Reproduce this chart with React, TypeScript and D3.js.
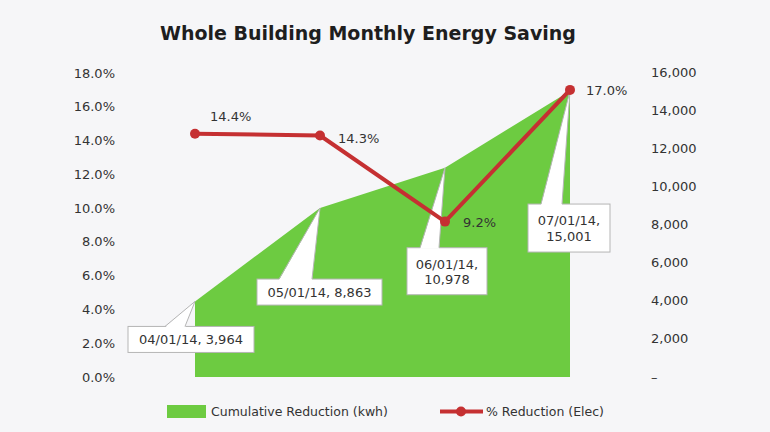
import React from 'react';
import * as d3 from 'd3';

// chart values
const months = ['04/01/14', '05/01/14', '06/01/14', '07/01/14'];
const cumulativeKwh = [3964, 8863, 10978, 15001];
const pctReduction = [14.4, 14.3, 9.2, 17.0];
const pctTicks = [0, 2, 4, 6, 8, 10, 12, 14, 16, 18];
const kwhTicks = [0, 2000, 4000, 6000, 8000, 10000, 12000, 14000, 16000];

// callout placement relative to each area point
const callouts = [
  { dx: -67, dy: 25, w: 126, h: 26, b0: -30, b1: -10, twoLines: false },
  { dx: -63, dy: 71, w: 125, h: 26, b0: -41, b1: -8, twoLines: false },
  { dx: -38, dy: 80, w: 80, h: 47, b0: -25, b1: -6, twoLines: true },
  { dx: -42, dy: 113, w: 82, h: 48, b0: -29, b1: -8, twoLines: true },
];
const pctLabelOffset = [
  { dx: 15, dy: -17 },
  { dx: 18, dy: 3 },
  { dx: 18, dy: 1 },
  { dx: 16, dy: 1 },
];

const W = 770;
const H = 432;
const GREEN = '#6dcb41';
const RED = '#c53032';
const FONT = '"DejaVu Sans", sans-serif';

const App = () => {
  const x = d3.scalePoint().domain(months).range([195, 570]);
  const yPct = d3.scaleLinear().domain([0, 18]).range([377, 73]);
  const yKwh = d3.scaleLinear().domain([0, 16000]).range([377, 72]);

  const area = d3
    .area<number>()
    .x((d, i) => x(months[i]))
    .y0(yKwh(0))
    .y1((d) => yKwh(d));

  const line = d3
    .line<number>()
    .x((d, i) => x(months[i]))
    .y((d) => yPct(d));

  const fmt = d3.format(',');

  return (
    <div style={{ position: 'fixed', left: 0, top: 0 }}>
      <svg width={W} height={H} style={{ display: 'block' }} fontFamily={FONT}>
        <rect width={W} height={H} fill="#f6f6f8" />
        <text x={368} y={40} textAnchor="middle" fontSize={19} fontWeight="bold" fill="#1e1e1e">
          Whole Building Monthly Energy Saving
        </text>

        {pctTicks.map((t) => (
          <text key={t} x={115} y={yPct(t)} dy="0.35em" textAnchor="end" fontSize={13} fill="#333">
            {t.toFixed(1)}%
          </text>
        ))}
        {kwhTicks.map((t) => (
          <text key={t} x={651} y={yKwh(t)} dy="0.35em" textAnchor="start" fontSize={13} fill="#333">
            {t === 0 ? '–' : fmt(t)}
          </text>
        ))}

        <path d={area(cumulativeKwh) || ''} fill={GREEN} />

        {cumulativeKwh.map((v, i) => {
          const px = x(months[i]) as number;
          const py = yKwh(v);
          const c = callouts[i];
          const bx = px + c.dx;
          const by = py + c.dy;
          const label = `${months[i]}, ${fmt(v)}`;
          return (
            <g key={months[i]}>
              <rect x={bx} y={by} width={c.w} height={c.h} fill="#fff" stroke="#b5b5b5" />
              <polygon points={`${px},${py} ${px + c.b0},${by + 1} ${px + c.b1},${by + 1}`} fill="#fff" />
              <path
                d={`M${px + c.b0},${by} L${px},${py} L${px + c.b1},${by}`}
                fill="none"
                stroke="#b5b5b5"
              />
              {c.twoLines ? (
                <text x={bx + c.w / 2} y={by + c.h / 2} textAnchor="middle" fontSize={13} fill="#333">
                  <tspan x={bx + c.w / 2} dy="-0.2em">{months[i] + ','}</tspan>
                  <tspan x={bx + c.w / 2} dy="1.2em">{fmt(v)}</tspan>
                </text>
              ) : (
                <text x={bx + c.w / 2} y={by + c.h / 2} dy="0.35em" textAnchor="middle" fontSize={13} fill="#333">
                  {label}
                </text>
              )}
            </g>
          );
        })}

        <path d={line(pctReduction) || ''} fill="none" stroke={RED} strokeWidth={4} strokeLinejoin="round" />
        {pctReduction.map((v, i) => (
          <g key={i}>
            <circle cx={x(months[i])} cy={yPct(v)} r={5} fill={RED} />
            <text
              x={(x(months[i]) as number) + pctLabelOffset[i].dx}
              y={yPct(v) + pctLabelOffset[i].dy}
              dy="0.35em"
              fontSize={13}
              fill="#333"
            >
              {v.toFixed(1)}%
            </text>
          </g>
        ))}

        <rect x={167} y={405} width={39} height={13} fill={GREEN} />
        <text x={211} y={411.5} dy="0.35em" fontSize={12.5} fill="#333">
          Cumulative Reduction (kwh)
        </text>
        <line x1={440} x2={483} y1={411.5} y2={411.5} stroke={RED} strokeWidth={4} />
        <circle cx={461} cy={411.5} r={5} fill={RED} />
        <text x={486} y={411.5} dy="0.35em" fontSize={12.5} fill="#333">
          % Reduction (Elec)
        </text>
      </svg>
    </div>
  );
};

export default App;
